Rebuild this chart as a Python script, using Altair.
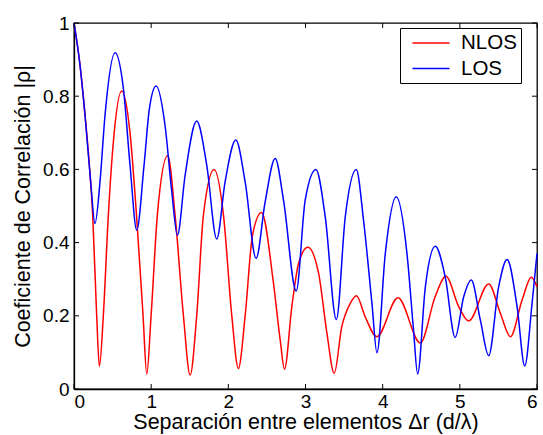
import altair as alt
import pandas as pd

# ---- data ----
nlos_x = [0, 0.078, 0.143, 0.199, 0.242, 0.294, 0.329, 0.38, 0.445, 0.51, 0.618, 0.726, 0.81, 0.895,
          0.943, 0.999, 1.08, 1.215, 1.31, 1.418, 1.505, 1.59, 1.677, 1.816, 1.937, 2.045, 2.13, 2.218,
          2.313, 2.43, 2.585, 2.672, 2.728, 2.823, 2.91, 3.03, 3.17, 3.278, 3.372, 3.47, 3.58, 3.66,
          3.774, 3.925, 4.198, 4.488, 4.68, 4.82, 4.985, 5.114, 5.374, 5.525, 5.655, 5.807, 5.927, 6.0]
nlos_y = [1.0, 0.885, 0.748, 0.612, 0.475, 0.20, 0.062, 0.20, 0.475, 0.675, 0.814, 0.70, 0.475, 0.20,
          0.041, 0.20, 0.475, 0.638, 0.475, 0.20, 0.038, 0.20, 0.475, 0.60, 0.475, 0.20, 0.056, 0.20,
          0.42, 0.482, 0.289, 0.134, 0.054, 0.225, 0.343, 0.387, 0.316, 0.152, 0.043, 0.17, 0.234, 0.255,
          0.197, 0.143, 0.249, 0.126, 0.252, 0.308, 0.225, 0.186, 0.287, 0.207, 0.143, 0.243, 0.305, 0.279]

los_x = [0, 0.078, 0.143, 0.216, 0.272, 0.337, 0.402, 0.532, 0.64, 0.726, 0.813, 0.908, 0.977, 1.064,
         1.18, 1.267, 1.34, 1.44, 1.59, 1.72, 1.85, 1.958, 2.097, 2.218, 2.36, 2.477, 2.607, 2.715, 2.88,
         2.996, 3.135, 3.256, 3.40, 3.515, 3.658, 3.752, 3.861, 3.926, 4.034, 4.176, 4.315, 4.40, 4.453,
         4.553, 4.682, 4.81, 4.94, 5.05, 5.149, 5.266, 5.374, 5.503, 5.612, 5.742, 5.841, 5.936, 6.0]
los_y = [1.0, 0.885, 0.748, 0.566, 0.452, 0.566, 0.748, 0.919, 0.821, 0.612, 0.434, 0.612, 0.766, 0.828,
         0.72, 0.539, 0.42, 0.584, 0.732, 0.612, 0.41, 0.566, 0.68, 0.566, 0.357, 0.511, 0.63, 0.516, 0.268,
         0.516, 0.60, 0.47, 0.19, 0.47, 0.60, 0.461, 0.234, 0.099, 0.37, 0.525, 0.37, 0.161, 0.041,
         0.279, 0.39, 0.307, 0.141, 0.252, 0.298, 0.188, 0.091, 0.279, 0.354, 0.225, 0.063, 0.234, 0.37]

series = ["NLOS", "LOS"]
colors = ["#ff0000", "#0000ff"]
x_ticks = [0, 1, 2, 3, 4, 5, 6]
y_ticks = [0, 0.2, 0.4, 0.6, 0.8, 1]

W, H = 463, 366
FONT = "Liberation Sans"

df = pd.concat([
    pd.DataFrame({"x": nlos_x, "y": nlos_y, "serie": "NLOS", "o": range(len(nlos_x))}),
    pd.DataFrame({"x": los_x, "y": los_y, "serie": "LOS", "o": range(len(los_x))}),
])

xscale = alt.Scale(domain=[0, 6], nice=False, zero=False)
yscale = alt.Scale(domain=[0, 1], nice=False, zero=False)

lines = alt.Chart(df).mark_line(strokeWidth=1.5, interpolate="monotone").encode(
    x=alt.X("x:Q", scale=xscale,
            axis=alt.Axis(title="Separación entre elementos Δr (d/λ)", values=x_ticks,
                          format="d", ticks=False, labelPadding=3, titlePadding=0)),
    y=alt.Y("y:Q", scale=yscale,
            axis=alt.Axis(title="Coeficiente de Correlación |ρ|", values=y_ticks,
                          ticks=False, labelPadding=5, titlePadding=8,
                          labelExpr="datum.value == 0 ? '0' : datum.value == 1 ? '1' : format(datum.value, '.1f')")),
    color=alt.Color("serie:N", scale=alt.Scale(domain=series, range=colors),
                    legend=alt.Legend(title=None, orient="none", legendX=326, legendY=5,
                                      symbolType="M-1.85,0H1.85", symbolSize=400,
                                      symbolStrokeWidth=1.4, symbolOffset=16,
                                      labelFontSize=20.5, labelFont=FONT, labelOffset=19,
                                      fillColor="white", strokeColor="black", padding=4,
                                      rowPadding=3.5, labelColor="black")),
    order="o:Q",
)

xt = pd.DataFrame({"v": x_ticks})
yt = pd.DataFrame({"v": y_ticks})
bottom_ticks = alt.Chart(xt).mark_rule(color="black", strokeWidth=1).encode(
    x=alt.X("v:Q", scale=xscale), y=alt.value(H), y2=alt.value(H - 5))
top_ticks = alt.Chart(xt).mark_rule(color="black", strokeWidth=1).encode(
    x=alt.X("v:Q", scale=xscale), y=alt.value(0), y2=alt.value(5))
left_ticks = alt.Chart(yt).mark_rule(color="black", strokeWidth=1).encode(
    y=alt.Y("v:Q", scale=yscale), x=alt.value(0), x2=alt.value(5))
right_ticks = alt.Chart(yt).mark_rule(color="black", strokeWidth=1).encode(
    y=alt.Y("v:Q", scale=yscale), x=alt.value(W - 5), x2=alt.value(W))

chart = alt.layer(lines, bottom_ticks, top_ticks, left_ticks, right_ticks).properties(
    width=W, height=H,
    padding={"left": 74, "top": 23, "right": 6, "bottom": 46},
    autosize=alt.AutoSizeParams(type="none"),
    background="white",
).configure_view(stroke="black", strokeWidth=1.3).configure_axis(
    labelFont=FONT, titleFont=FONT, labelFontSize=19, titleFontSize=21.5,
    labelColor="black", titleColor="black", titleFontWeight="normal",
    domainColor="black", domainWidth=1.3, grid=False,
)

chart.save("out.html", embed_options={"renderer": "svg", "actions": False})
